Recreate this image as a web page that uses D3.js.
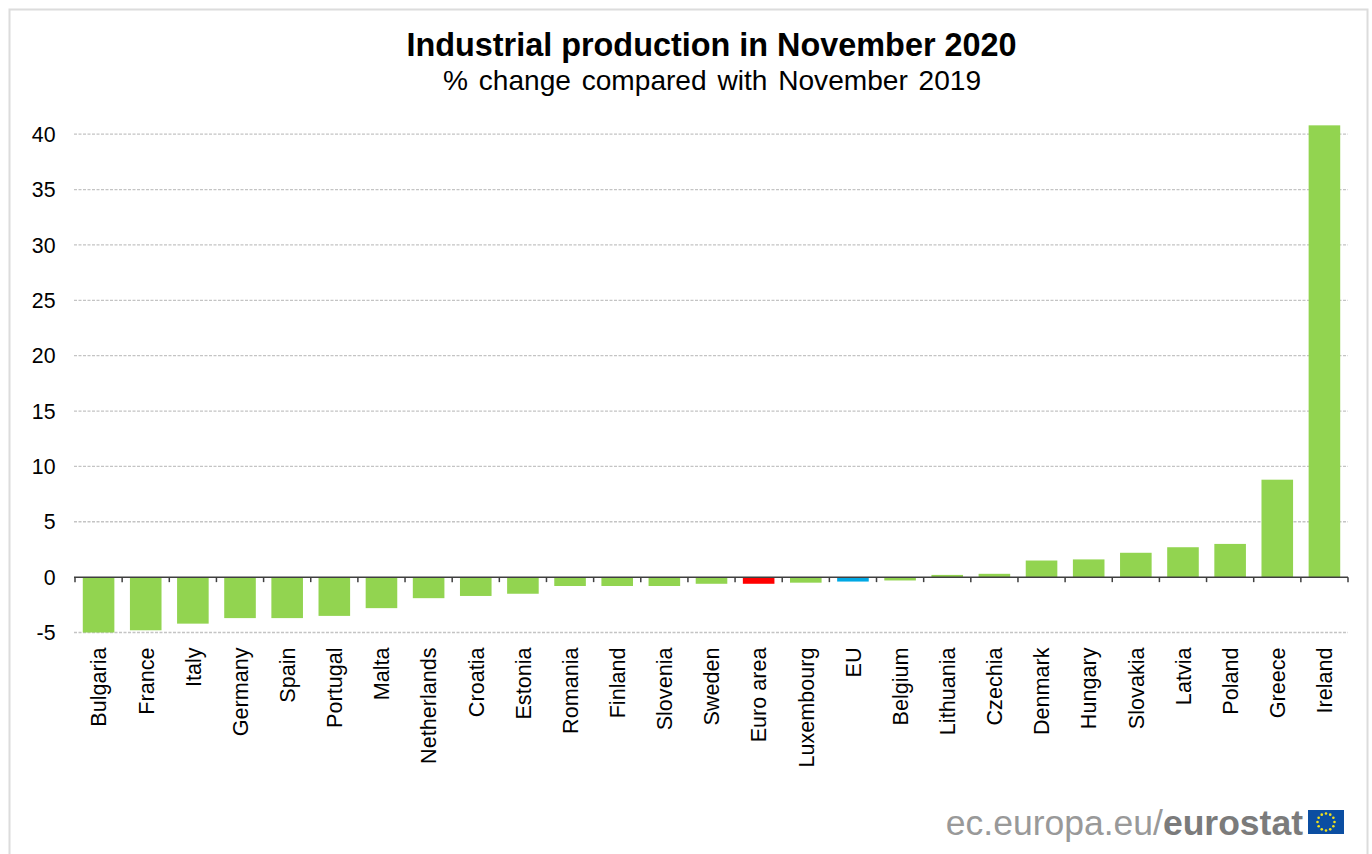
<!DOCTYPE html>
<html>
<head>
<meta charset="utf-8">
<script src="https://cdn.jsdelivr.net/npm/d3@7"></script>
<style>
  html, body { margin: 0; padding: 0; background: #fff; overflow: hidden; }
  text { font-family: "Liberation Sans", Arial, sans-serif; }
</style>
</head>
<body>
<div id="chart"></div>
<script>
const countries = ["Bulgaria", "France", "Italy", "Germany", "Spain", "Portugal", "Malta", "Netherlands", "Croatia", "Estonia", "Romania", "Finland", "Slovenia", "Sweden", "Euro area", "Luxembourg", "EU", "Belgium", "Lithuania", "Czechia", "Denmark", "Hungary", "Slovakia", "Latvia", "Poland", "Greece", "Ireland"]
const changes = [-5.0, -4.8, -4.2, -3.7, -3.7, -3.5, -2.8, -1.9, -1.7, -1.5, -0.8, -0.8, -0.8, -0.6, -0.6, -0.5, -0.4, -0.3, 0.2, 0.3, 1.5, 1.6, 2.2, 2.7, 3.0, 8.8, 40.8]
const yTicks = [-5, 0, 5, 10, 15, 20, 25, 30, 35, 40]

const width = 1372, height = 854

const svg = d3.select("#chart").append("svg")
    .attr("width", width)
    .attr("height", height)
    .style("display", "block")

// outer frame, bottom edge runs off the page
svg.append("rect")
    .attr("x", 9.5).attr("y", 9.5)
    .attr("width", 1358).attr("height", 860)
    .attr("fill", "#fff")
    .attr("stroke", "#dcdcdc")
    .attr("stroke-width", 2)

svg.append("text")
    .attr("x", 711.5).attr("y", 56)
    .attr("text-anchor", "middle")
    .attr("font-size", 32.4)
    .attr("font-weight", "bold")
    .attr("fill", "#000")
    .text("Industrial production in November 2020")

svg.append("text")
    .attr("x", 712).attr("y", 90)
    .attr("text-anchor", "middle")
    .attr("font-size", 28.1)
    .attr("fill", "#000")
    .attr("word-spacing", 3)
    .text("% change compared with November 2019")

const x = d3.scaleBand()
    .domain(countries)
    .range([75, 1348])
    .paddingInner(0.33)
    .paddingOuter(0.165)

const y = d3.scaleLinear()
    .domain([-5, 40])
    .range([632.5, 134.2])

// dashed gridlines
svg.append("g")
    .selectAll("line")
    .data(yTicks.filter(d => d !== 0))
    .enter()
    .append("line")
    .attr("x1", 74).attr("x2", 1348)
    .attr("y1", d => y(d)).attr("y2", d => y(d))
    .attr("stroke", "#c4c4c4")
    .attr("stroke-width", 1.3)
    .attr("stroke-dasharray", "3,1.5")

// y labels
svg.append("g")
    .selectAll("text")
    .data(yTicks)
    .enter()
    .append("text")
    .attr("x", 55.5)
    .attr("y", d => y(d))
    .attr("dy", "0.36em")
    .attr("text-anchor", "end")
    .attr("font-size", 21.3)
    .attr("fill", "#000")
    .text(d => d)

function barColor(name) {
    if (name === "Euro area") return "#ff0000"
    if (name === "EU") return "#00a8e4"
    return "#92d450"
}

// bars
svg.append("g")
    .selectAll("rect")
    .data(countries)
    .enter()
    .append("rect")
    .attr("x", d => x(d))
    .attr("width", x.bandwidth())
    .attr("y", (d, i) => Math.min(y(0), y(changes[i])))
    .attr("height", (d, i) => Math.abs(y(changes[i]) - y(0)))
    .attr("fill", d => barColor(d))

// zero line + ticks between the categories
const step = x.step()
const tickEdges = countries.map(d => x(d) - step * 0.165)
tickEdges.push(1348)

svg.append("line")
    .attr("x1", 74).attr("x2", 1348)
    .attr("y1", y(0)).attr("y2", y(0))
    .attr("stroke", "#3f3f3f")
    .attr("stroke-width", 1.5)

svg.append("g")
    .selectAll("line")
    .data(tickEdges)
    .enter()
    .append("line")
    .attr("x1", d => d).attr("x2", d => d)
    .attr("y1", y(0)).attr("y2", y(0) + 5)
    .attr("stroke", "#3f3f3f")
    .attr("stroke-width", 1.5)

// rotated category labels
svg.append("g")
    .selectAll("text")
    .data(countries)
    .enter()
    .append("text")
    .attr("transform", d => "translate(" + (x(d) + x.bandwidth() / 2) + ",647.5)rotate(-90)")
    .attr("dy", "0.36em")
    .attr("text-anchor", "end")
    .attr("font-size", 21.6)
    .attr("fill", "#000")
    .text(d => d)

// eurostat footer
const footer = svg.append("text")
    .attr("x", 1303).attr("y", 835)
    .attr("text-anchor", "end")
    .attr("font-size", 35.5)
    .attr("fill", "#999")
footer.append("tspan").text("ec.europa.eu/")
footer.append("tspan")
    .attr("font-weight", "bold")
    .attr("fill", "#7b7b7b")
    .text("eurostat")

svg.append("rect")
    .attr("x", 1308).attr("y", 810)
    .attr("width", 36).attr("height", 24)
    .attr("fill", "#0b4ea2")

svg.append("g")
    .selectAll("circle")
    .data(d3.range(12))
    .enter()
    .append("circle")
    .attr("cx", d => 1326 + 8.5 * Math.cos(d * Math.PI / 6))
    .attr("cy", d => 822 + 8.5 * Math.sin(d * Math.PI / 6))
    .attr("r", 1.3)
    .attr("fill", "#f2e21c")
</script>
</body>
</html>
